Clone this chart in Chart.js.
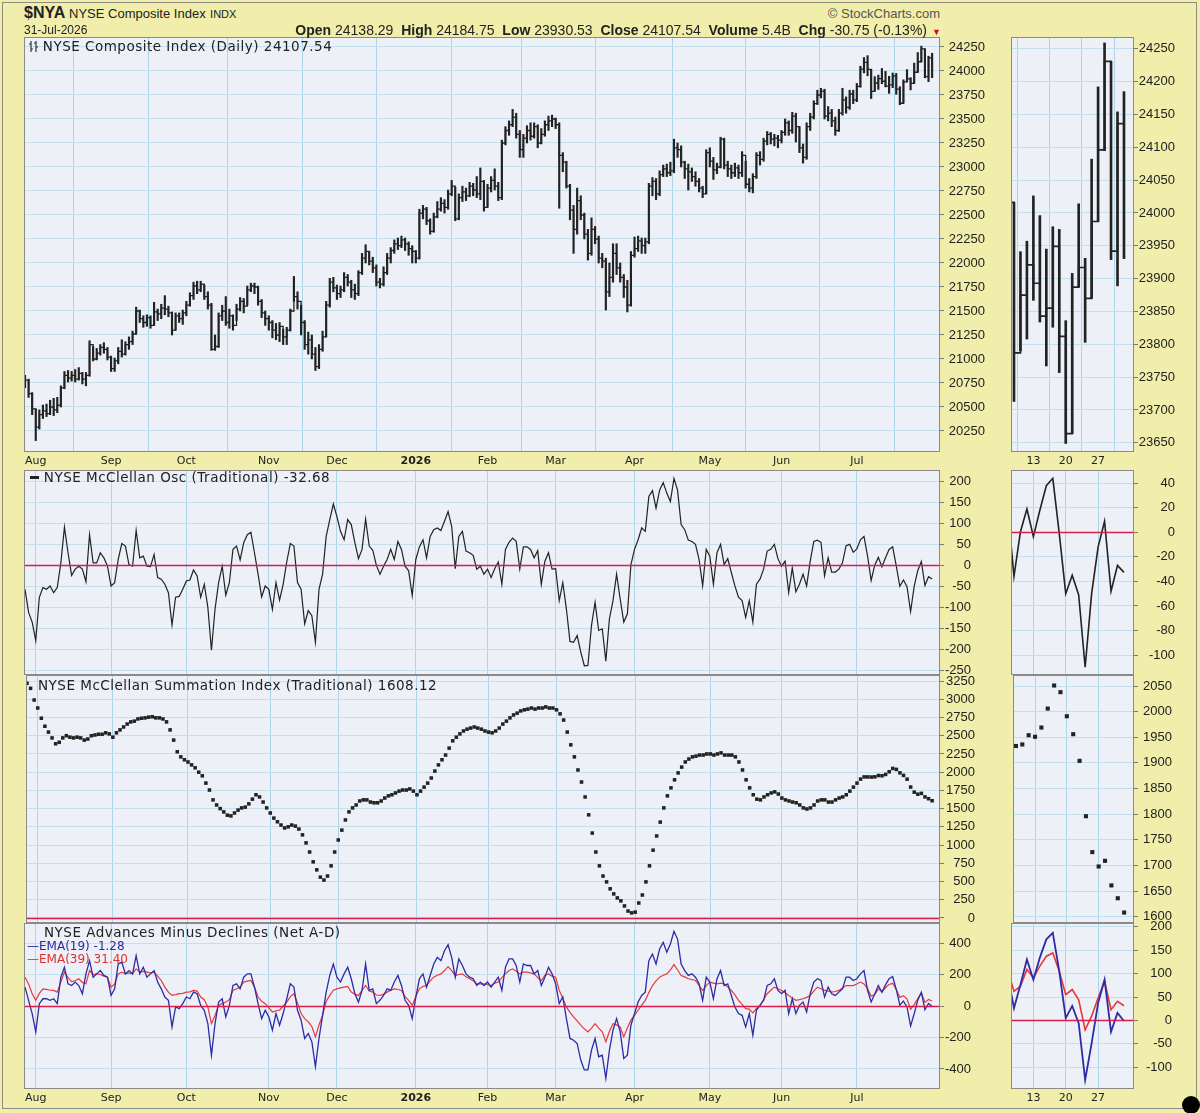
<!DOCTYPE html>
<html>
<head>
<meta charset="utf-8">
<title>$NYA NYSE Composite Index</title>
<script src="https://cdn.jsdelivr.net/npm/chart.js@4.4.1/dist/chart.umd.min.js"></script>
<style>
    html, body { margin: 0; padding: 0; }
    body { width: 1200px; height: 1113px; background: #f0eeaa; position: relative; overflow: hidden; font-family: 'Liberation Sans', Arial, sans-serif; color: #222; }
    .frame { position: absolute; left: 2px; top: 2px; width: 1195px; height: 1107px; border: 1px solid #8c8c84; box-sizing: border-box; }
    canvas { position: absolute; }
    .txt { position: absolute; white-space: nowrap; z-index: 3; line-height: 1; }
    .ptitle { font-family: 'DejaVu Sans', Verdana, sans-serif; font-size: 13.5px; letter-spacing: 0.5px; color: #222; }
    .legend { font-family: 'DejaVu Sans', Verdana, sans-serif; font-size: 12px; }
    .dot { position: absolute; left: 1182px; top: 1096px; width: 18px; height: 18px; border-radius: 50%; background: #000; z-index: 4; }
</style>
</head>
<body>
<div class="frame"></div>

<div class="txt" style="left:24px; top:5px; font-size:16px; font-weight:bold;">$NYA <span style="font-weight:normal; font-size:13px;">NYSE Composite Index</span> <span style="font-weight:normal; font-size:11px;">INDX</span></div>
<div class="txt" style="left:24px; top:24px; font-size:12px;">31-Jul-2026</div>
<div class="txt" style="right:273px; top:23px; font-size:14px;"><b>Open</b> 24138.29 &nbsp;<b>High</b> 24184.75 &nbsp;<b>Low</b> 23930.53 &nbsp;<b>Close</b> 24107.54 &nbsp;<b>Volume</b> 5.4B &nbsp;<b>Chg</b> -30.75 (-0.13%)</div>
<div class="txt" style="left:932px; top:28px; font-size:9px; color:#c0102a;">&#9660;</div>
<div class="txt" style="right:260px; top:7px; font-size:13px; color:#555;">&copy; StockCharts.com</div>

<div class="txt ptitle" style="left:29px; top:40px;"><svg width="9" height="11" style="vertical-align:-1px"><path d="M2 0v11M0 3h2M2 8h2M7 0v11M5 2h2M7 6h2" stroke="#333" stroke-width="1.2" fill="none"/></svg> NYSE Composite Index (Daily) 24107.54</div>
<div class="txt ptitle" style="left:30px; top:471px;"><span style="display:inline-block; width:9px; height:3px; background:#222; vertical-align:3px;"></span> NYSE McClellan Osc (Traditional) -32.68</div>
<div class="txt ptitle" style="left:38px; top:679px;">NYSE McClellan Summation Index (Traditional) 1608.12</div>
<div class="txt ptitle" style="left:44px; top:926px;">NYSE Advances Minus Declines (Net A-D)</div>
<div class="txt legend" style="left:27px; top:940px; color:#2a2aa0;">&#8212;EMA(19) -1.28</div>
<div class="txt legend" style="left:27px; top:953px; color:#e0302e;">&#8212;EMA(39) 31.40</div>
<div class="dot"></div>

<script>
// x is the session number: 0 = 29-Jul-2025 ... 253 = 31-Jul-2026
var monthTicks = [3, 24, 45, 68, 87, 109, 129, 148, 170, 191, 211, 232];
var monthLabels = ['Aug', 'Sep', 'Oct', 'Nov', 'Dec', '2026', 'Feb', 'Mar', 'Apr', 'May', 'Jun', 'Jul'];
var weekTicks = [239, 244, 249];
var weekLabels = ['13', '20', '27'];

var priceTicks = [20250, 20500, 20750, 21000, 21250, 21500, 21750, 22000, 22250, 22500, 22750, 23000, 23250, 23500, 23750, 24000, 24250];
var priceZoomTicks = [23650, 23700, 23750, 23800, 23850, 23900, 23950, 24000, 24050, 24100, 24150, 24200, 24250];
var oscTicks = [-250, -200, -150, -100, -50, 0, 50, 100, 150, 200];
var oscZoomTicks = [-100, -80, -60, -40, -20, 0, 20, 40];
var sumTicks = [0, 250, 500, 750, 1000, 1250, 1500, 1750, 2000, 2250, 2500, 2750, 3000, 3250];
var sumZoomTicks = [1600, 1650, 1700, 1750, 1800, 1850, 1900, 1950, 2000, 2050];
var adTicks = [-400, -200, 0, 200, 400];
var adZoomTicks = [-100, -50, 0, 50, 100, 150, 200];

var close = [
    20780, 20640, 20480, 20290, 20420, 20460, 20430, 20500, 20470, 20520,
    20700, 20830, 20800, 20830, 20790, 20850, 20790, 20830, 21150, 21000,
    21060, 21120, 21100, 21020, 20900, 20980, 21080, 21050, 21150, 21180,
    21260, 21500, 21420, 21380, 21430, 21350, 21490, 21470, 21530, 21520,
    21480, 21300, 21450, 21420, 21480, 21560, 21660, 21760, 21720, 21780,
    21650, 21560, 21100, 21130, 21450, 21500, 21380, 21450, 21350, 21520,
    21600, 21550, 21720, 21760, 21750, 21600, 21480, 21420, 21380, 21300,
    21250, 21340, 21230, 21300, 21500, 21650, 21600, 21380, 21150, 21200,
    21050, 20920, 21100, 21230, 21560, 21800, 21740, 21680, 21720, 21850,
    21800, 21720, 21680, 21900, 22050, 22120, 22020, 21950, 21800, 21780,
    21900, 22050, 22130, 22200, 22180, 22240, 22200, 22150, 22120, 22050,
    22520, 22560, 22440, 22330, 22480, 22560, 22620, 22580, 22720, 22800,
    22460, 22680, 22740, 22700, 22800, 22760, 22720, 22850, 22580, 22780,
    22860, 22800, 22680, 23250, 23380, 23440, 23520, 23340, 23180, 23300,
    23380, 23320, 23420, 23250, 23340, 23440, 23480, 23500, 23440, 23120,
    23050, 22800, 22550, 22350, 22650, 22500, 22300, 22100, 22350, 22250,
    22050, 22020, 21700, 21850, 22100, 21950, 21850, 21750, 21560, 22080,
    22150, 22230, 22180, 22220, 22800, 22850, 22720, 22920, 22980, 22940,
    22960, 23200, 23180, 23050, 22980, 22950, 22900, 22850, 22780, 22720,
    23150, 23060, 22970, 23000, 23290, 23020, 22980, 22940, 22990, 22940,
    23120, 22820, 22780, 22900, 23120, 23080, 23270, 23340, 23290, 23300,
    23280, 23360, 23460, 23380, 23530, 23420, 23200, 23100, 23420, 23520,
    23660, 23750, 23790, 23530, 23560, 23480, 23380, 23560, 23700, 23620,
    23760, 23700, 23840, 24020, 24090, 24016, 23787, 23875, 23921, 23893,
    23843, 23855, 23949, 23812, 23664, 23887, 23917, 23870, 23987, 24096,
    24231, 23942, 24136, 24107.54
];

var high = [
    20830, 20790, 20650, 20480, 20470, 20520, 20530, 20570, 20590, 20600,
    20720, 20870, 20880, 20870, 20890, 20910, 20860, 20860, 21190, 21130,
    21110, 21150, 21170, 21120, 21030, 21010, 21120, 21200, 21180, 21230,
    21290, 21540, 21510, 21450, 21460, 21450, 21590, 21520, 21570, 21660,
    21550, 21490, 21480, 21480, 21510, 21600, 21690, 21800, 21810, 21810,
    21770, 21700, 21580, 21250, 21480, 21560, 21650, 21520, 21460, 21570,
    21640, 21630, 21760, 21790, 21790, 21760, 21620, 21500, 21450, 21400,
    21370, 21380, 21310, 21330, 21520, 21860, 21700, 21560, 21400, 21280,
    21250, 21120, 21150, 21290, 21600, 21840, 21850, 21770, 21760, 21900,
    21880, 21820, 21780, 21920, 22100, 22190, 22120, 22060, 21980, 21840,
    21960, 22100, 22160, 22240, 22260, 22280, 22260, 22220, 22180, 22130,
    22560, 22600, 22580, 22460, 22520, 22640, 22680, 22660, 22760, 22860,
    22790, 22720, 22800, 22780, 22840, 22830, 22900, 22990, 22860, 22820,
    22900, 22980, 22840, 23280, 23420, 23480, 23600, 23560, 23380, 23340,
    23430, 23460, 23460, 23440, 23400, 23480, 23530, 23540, 23510, 23460,
    23150, 23060, 22820, 22600, 22780, 22700, 22520, 22350, 22470, 22380,
    22280, 22100, 22050, 22000, 22200, 22200, 22000, 21880, 21820, 22120,
    22270, 22280, 22260, 22260, 22830, 22890, 22880, 22960, 23020, 23030,
    23050, 23290, 23250, 23220, 23060, 23030, 22990, 22950, 22880, 22800,
    23180, 23200, 23100, 23040, 23310, 23300, 23060, 23020, 23040, 23020,
    23160, 23060, 22880, 22930, 23150, 23160, 23300, 23370, 23360, 23340,
    23330, 23380, 23500, 23480, 23570, 23560, 23420, 23240, 23460, 23560,
    23690, 23800, 23820, 23810, 23630, 23600, 23520, 23600, 23820, 23730,
    23800, 23800, 23870, 24050, 24140, 24160, 24016, 23941, 23957, 24026,
    23996, 23945, 23979, 23975, 23836, 23908, 24014, 23931, 24082, 24192,
    24259, 24231, 24154, 24184.75
];

var low = [
    20700, 20600, 20420, 20150, 20270, 20380, 20400, 20420, 20410, 20440,
    20500, 20690, 20760, 20770, 20760, 20780, 20740, 20720, 20820, 20980,
    20990, 21040, 21060, 20990, 20870, 20870, 20950, 21020, 21040, 21100,
    21150, 21260, 21380, 21330, 21340, 21320, 21350, 21400, 21420, 21460,
    21440, 21250, 21300, 21380, 21360, 21450, 21550, 21620, 21680, 21700,
    21620, 21520, 21090, 21090, 21120, 21400, 21350, 21320, 21300, 21400,
    21500, 21480, 21560, 21700, 21680, 21560, 21430, 21350, 21300, 21220,
    21200, 21180, 21150, 21150, 21290, 21600, 21520, 21250, 21100, 21050,
    21000, 20880, 20900, 21080, 21230, 21540, 21700, 21620, 21640, 21700,
    21760, 21640, 21620, 21660, 21880, 22000, 21980, 21900, 21760, 21740,
    21760, 21880, 22000, 22100, 22140, 22160, 22130, 22080, 22000, 22000,
    22040, 22460, 22400, 22300, 22320, 22470, 22540, 22520, 22560, 22700,
    22440, 22450, 22640, 22650, 22690, 22700, 22680, 22660, 22540, 22580,
    22740, 22760, 22650, 22660, 23230, 23330, 23420, 23300, 23100, 23100,
    23250, 23280, 23300, 23200, 23240, 23320, 23380, 23420, 23400, 22570,
    22950, 22780, 22450, 22100, 22300, 22450, 22250, 22030, 22080, 22200,
    22000, 21950, 21510, 21650, 21800, 21880, 21800, 21640, 21490, 21550,
    22060, 22120, 22100, 22100, 22200, 22700, 22660, 22700, 22900, 22900,
    22910, 22940, 23100, 23000, 22880, 22760, 22850, 22800, 22740, 22680,
    22720, 23000, 22870, 22930, 22990, 22980, 22900, 22880, 22900, 22880,
    22900, 22780, 22740, 22730, 22880, 23020, 23060, 23230, 23240, 23220,
    23200, 23250, 23330, 23330, 23350, 23260, 23150, 23040, 23080, 23380,
    23500, 23650, 23720, 23500, 23480, 23420, 23330, 23370, 23540, 23560,
    23600, 23660, 23680, 23830, 23980, 23950, 23713, 23790, 23808, 23867,
    23834, 23767, 23826, 23757, 23649, 23664, 23887, 23803, 23870, 23987,
    24095, 23929, 23889, 23930.53
];

var mcclellanOsc = [
    -57, -112, -135, -179, -76, -53, -57, -49, -65, -53,
    6, 91, 30, -24, -9, -2, -9, -39, 73, 6,
    6, 30, 18, -2, -49, -41, 14, 52, 46, 2,
    -2, 83, 18, 22, -2, -3, 26, -29, -33, -45,
    -65, -142, -76, -74, -57, -37, -35, -11, -25, -76,
    -45, -100, -202, -104, -41, -2, -71, -41, 38, 46,
    13, 54, 73, 79, 30, -21, -75, -49, -57, -105,
    -41, -83, -45, 8, 52, 46, -41, -57, -139, -108,
    -120, -183, -57, -21, 69, 109, 146, 116, 81, 61,
    109, 97, 54, 16, 38, 110, 46, 36, 0, -21,
    -2, 14, 38, 14, 57, 38, -2, -13, -72, 14,
    44, 61, 18, 69, 85, 89, 83, 105, 128, 93,
    -8, 69, 81, 34, 30, 24, -9, -2, -21, -9,
    -29, -8, 8, -45, 38, 55, 65, 57, -9, 44,
    44, 38, 18, 35, -45, 10, 30, -9, -8, -84,
    -41, -104, -181, -183, -167, -206, -239, -238, -143, -88,
    -155, -151, -228, -127, -84, -21, -80, -135, -116, 2,
    38, 61, 89, 81, 164, 178, 136, 179, 197, 172,
    152, 207, 179, 97, 85, 60, 57, 50, 14, -49,
    38, 22, -45, 30, 50, 2, 16, -17, -49, -76,
    -84, -124, -84, -135, -45, -33, -9, 34, 38, 50,
    16, -2, 10, -65, -6, -63, -45, -21, -49, 10,
    57, 60, 55, -25, 18, -16, -16, -9, 6, 47,
    50, 31, 39, 61, 69, 22, -36, 0.5, 19, -3.5,
    18, 38, 44, -1, -50, -35, -51, -110, -50, -12,
    9, -48, -27, -32.68
];

var summation = [
    3220, 3150, 2990, 2880, 2740, 2630, 2550, 2470, 2390, 2410,
    2470, 2500, 2480, 2470, 2480, 2470, 2440, 2455, 2500, 2510,
    2520, 2520, 2540, 2525, 2480, 2540, 2580, 2620, 2660, 2690,
    2700, 2730, 2740, 2745, 2755, 2760, 2745, 2745, 2730, 2690,
    2580, 2440, 2280, 2210, 2170, 2140, 2100, 2060, 2000, 1950,
    1850, 1755, 1620, 1550, 1500, 1455, 1410, 1400, 1440, 1480,
    1510, 1520, 1565, 1630, 1690, 1660, 1590, 1510, 1440, 1370,
    1320, 1275, 1235, 1250, 1275, 1260, 1220, 1140, 1030, 905,
    770, 660, 560, 520, 575, 715, 905, 1070, 1205, 1345,
    1455, 1510, 1550, 1605, 1620, 1620, 1590, 1580, 1580, 1605,
    1645, 1675, 1690, 1715, 1740, 1755, 1755, 1770, 1740, 1690,
    1740, 1795, 1850, 1920, 2015, 2100, 2170, 2235, 2330, 2430,
    2480, 2525, 2565, 2590, 2605, 2620, 2605, 2590, 2565, 2550,
    2540, 2565, 2605, 2660, 2700, 2745, 2785, 2810, 2840, 2855,
    2865, 2880, 2865, 2880, 2880, 2895, 2880, 2880, 2855, 2800,
    2715, 2550, 2375, 2210, 2030, 1865, 1660, 1415, 1165, 905,
    715, 575, 495, 400, 330, 275, 235, 165, 95, 70,
    80, 205, 315, 495, 715, 930, 1125, 1315, 1510, 1675,
    1785, 1895, 1990, 2070, 2140, 2180, 2210, 2220, 2235, 2235,
    2250, 2250, 2235, 2250, 2265, 2235, 2235, 2235, 2210, 2140,
    2030, 1895, 1785, 1690, 1630, 1620, 1660, 1690, 1715, 1730,
    1700, 1645, 1620, 1605, 1590, 1580, 1550, 1510, 1495, 1510,
    1550, 1605, 1620, 1620, 1590, 1590, 1620, 1645, 1660, 1690,
    1740, 1795, 1850, 1905, 1935, 1935, 1933, 1936, 1954, 1951,
    1969, 2006, 2051, 2038, 1991, 1956, 1904, 1796, 1726, 1698,
    1709, 1661, 1636, 1608.12
];

var netAdEma19 = [
    120, 36, -48, -164, 15, 46, 46, 36, 46, 15,
    183, 246, 141, 130, 152, 130, 78, 204, 288, 183,
    204, 225, 194, 183, 67, 109, 267, 278, 204, 225,
    204, 320, 204, 246, 183, 204, 225, 152, 109, 57,
    36, -133, -6, -17, 15, 57, 46, 88, 78, 4,
    -27, -112, -312, -112, 25, 46, -69, 4, 130, 141,
    109, 183, 204, 204, 120, 15, -80, -27, -69, -154,
    -48, -122, -48, 46, 141, 120, -27, -90, -206, -175,
    -227, -385, -206, -59, 88, 194, 267, 183, 152, 204,
    246, 173, 78, 25, 99, 267, 99, 109, 15, 36,
    67, 109, 99, 152, 194, 130, 36, 4, -80, 57,
    173, 204, 120, 194, 267, 309, 288, 351, 389, 309,
    183, 299, 257, 204, 183, 173, 130, 152, 130, 152,
    120, 152, 183, 99, 246, 299, 299, 257, 152, 267,
    257, 257, 204, 225, 130, 183, 246, 204, 141, 15,
    57, -80, -206, -217, -238, -343, -406, -406, -280, -206,
    -322, -312, -459, -280, -154, -80, -164, -333, -312, -122,
    -48, 25, 67, 88, 288, 330, 267, 362, 404, 341,
    394, 474, 425, 267, 225, 194, 204, 183, 141, 36,
    183, 152, 46, 173, 225, 130, 141, 67, -6, -48,
    -59, -133, -48, -185, -27, 4, 36, 130, 141, 173,
    99, 78, 99, -48, 46, -48, 4, 25, -38, 78,
    152, 173, 162, 57, 120, 78, 67, 88, 109, 183,
    183, 162, 173, 204, 225, 100, 26, 76, 130, 87,
    134, 173, 187, 105, 5, 31, -6, -127, -49, 37,
    87, -24, 16, -1.28
];

var netAdEma39 = [
    183, 140, 78, 36, 80, 109, 105, 100, 99, 88,
    152, 215, 180, 155, 160, 173, 150, 141, 225, 200,
    204, 200, 190, 183, 120, 140, 204, 215, 204, 210,
    205, 236, 215, 220, 215, 210, 215, 190, 162, 120,
    88, 67, 72, 78, 80, 88, 90, 99, 95, 57,
    40, -6, -112, -60, 4, 15, 25, 40, 99, 110,
    120, 152, 158, 162, 120, 57, 30, 15, -10, -38,
    -30, -27, 0, 25, 60, 78, 20, -48, -80, -101,
    -130, -196, -120, -59, 30, 67, 100, 109, 115, 120,
    125, 88, 75, 67, 100, 130, 95, 88, 70, 67,
    75, 88, 100, 109, 105, 99, 60, 36, 4, 60,
    109, 125, 130, 160, 183, 195, 204, 225, 250, 225,
    194, 200, 204, 185, 173, 160, 141, 141, 141, 135,
    130, 145, 152, 180, 204, 225, 236, 220, 204, 215,
    215, 210, 204, 180, 162, 195, 204, 190, 183, 99,
    50, -6, -40, -69, -95, -122, -145, -164, -140, -112,
    -140, -164, -227, -160, -112, -120, -133, -196, -140, -90,
    -60, -27, 5, 36, 85, 130, 160, 183, 195, 204,
    230, 263, 230, 194, 185, 173, 168, 162, 130, 99,
    130, 152, 145, 141, 145, 141, 120, 99, 70, 36,
    10, -17, -20, -44, -15, 4, 40, 78, 100, 120,
    110, 99, 85, 67, 50, 36, 40, 46, 55, 67,
    95, 120, 110, 99, 95, 88, 92, 99, 115, 130,
    130, 130, 140, 152, 140, 110, 62, 73, 109, 91,
    116, 137, 144, 105, 55, 66, 44, -20, 9, 48,
    84, 23, 41, 31.40
];

(function() {
    'use strict';

    var PLOT_BG = '#eef0f8';
    var HGRID = '#c4e0ec';
    var VGRID = '#add5e7';
    var FRAME = '#8a8a8a';
    var ZERO = '#d81e4a';
    var INK = '#222222';

    var MAIN = { left: 24, right: 940, xMin: -0.28, xMax: 255.2, xTicks: monthTicks, xLabels: monthLabels };
    var SIDE = { left: 1011, right: 1134, xMin: 235.54, xMax: 254.55, xTicks: weekTicks, xLabels: weekLabels };

    var panelFrame = {
        id: 'panelFrame',
        beforeDraw: function(chart) {
            var a = chart.chartArea;
            var ctx = chart.ctx;
            ctx.save();
            ctx.fillStyle = PLOT_BG;
            ctx.fillRect(a.left, a.top, a.right - a.left, a.bottom - a.top);
            ctx.restore();
        },
        afterDatasetsDraw: function(chart, args, opts) {
            if (opts.zero === null || opts.zero === undefined) {
                return;
            }
            var a = chart.chartArea;
            var ctx = chart.ctx;
            var y = Math.round(chart.scales.y.getPixelForValue(opts.zero)) + 0.5;
            ctx.save();
            ctx.strokeStyle = ZERO;
            ctx.lineWidth = 1.6;
            ctx.beginPath();
            ctx.moveTo(a.left, y);
            ctx.lineTo(a.right, y);
            ctx.stroke();
            ctx.restore();
        },
        afterDraw: function(chart) {
            var a = chart.chartArea;
            var ctx = chart.ctx;
            ctx.save();
            ctx.strokeStyle = FRAME;
            ctx.lineWidth = 1;
            ctx.strokeRect(Math.round(a.left) + 0.5, Math.round(a.top) + 0.5,
                Math.round(a.right - a.left) - 1, Math.round(a.bottom - a.top) - 1);
            ctx.restore();
        }
    };

    function points(values) {
        return values.map(function(v, i) {
            return { x: i, y: v };
        });
    }

    function ranges() {
        return high.map(function(h, i) {
            return { x: i, y: [low[i], h] };
        });
    }

    function priceSets(barW, lineW) {
        return [
            {
                type: 'bar',
                data: ranges(),
                backgroundColor: INK,
                borderWidth: 0,
                barThickness: barW,
                grouped: false
            },
            {
                type: 'line',
                data: points(close),
                borderColor: INK,
                borderWidth: lineW,
                stepped: true,
                pointRadius: 0,
                fill: false
            }
        ];
    }

    function oscSets(lineW) {
        return [{
            type: 'line',
            data: points(mcclellanOsc),
            borderColor: INK,
            borderWidth: lineW,
            pointRadius: 0,
            tension: 0,
            fill: false
        }];
    }

    function sumSets(radius) {
        return [{
            type: 'line',
            data: points(summation),
            showLine: false,
            pointStyle: 'rect',
            pointRadius: radius,
            pointBorderWidth: 0,
            pointBackgroundColor: INK
        }];
    }

    function adSets(blueW, redW) {
        return [
            {
                type: 'line',
                data: points(netAdEma19),
                borderColor: '#2c2ca4',
                borderWidth: blueW,
                pointRadius: 0,
                tension: 0,
                fill: false
            },
            {
                type: 'line',
                data: points(netAdEma39),
                borderColor: '#e8373a',
                borderWidth: redW,
                pointRadius: 0,
                tension: 0,
                fill: false
            }
        ];
    }

    function makePanel(side, p) {
        var padT = 10, padB = 10, padL = 2, padR = 14;
        var xAxisH = p.showDates ? 18 : 0;
        var axisW = p.axisW;
        var w = (side.right - side.left) + padL + axisW + padR;
        var h = (p.bottom - p.top) + padT + padB + xAxisH;

        var canvas = document.createElement('canvas');
        canvas.width = w;
        canvas.height = h;
        canvas.style.left = (side.left - padL) + 'px';
        canvas.style.top = (p.top - padT) + 'px';
        canvas.style.width = w + 'px';
        canvas.style.height = h + 'px';
        document.body.appendChild(canvas);

        return new Chart(canvas.getContext('2d'), {
            type: 'line',
            data: { datasets: p.datasets },
            plugins: [panelFrame],
            options: {
                responsive: false,
                animation: false,
                events: [],
                layout: { padding: { top: padT, bottom: padB, left: padL, right: padR } },
                plugins: {
                    legend: { display: false },
                    tooltip: { enabled: false },
                    panelFrame: { zero: p.zero }
                },
                scales: {
                    x: {
                        type: 'linear',
                        min: side.xMin,
                        max: side.xMax,
                        offset: false,
                        afterBuildTicks: function(s) {
                            s.ticks = side.xTicks.map(function(v) {
                                return { value: v };
                            });
                        },
                        afterFit: function(s) {
                            s.height = xAxisH;
                            s.paddingLeft = 0;
                            s.paddingRight = 0;
                        },
                        grid: { color: VGRID, drawTicks: false },
                        border: { display: false },
                        ticks: {
                            display: !!p.showDates,
                            autoSkip: false,
                            maxRotation: 0,
                            padding: 3,
                            color: INK,
                            callback: function(v, i) {
                                return side.xLabels[i];
                            },
                            font: function(ctx) {
                                var bold = ctx.tick && ctx.tick.label === '2026';
                                return { family: "'DejaVu Sans', Verdana, sans-serif", size: 11, weight: bold ? 'bold' : 'normal' };
                            }
                        }
                    },
                    y: {
                        type: 'linear',
                        position: 'right',
                        min: p.yMin,
                        max: p.yMax,
                        afterBuildTicks: function(s) {
                            s.ticks = p.yTicks.map(function(v) {
                                return { value: v };
                            });
                        },
                        afterFit: function(s) {
                            s.width = axisW;
                            s.paddingTop = 0;
                            s.paddingBottom = 0;
                        },
                        grid: { color: HGRID, tickLength: 4, tickColor: '#7a7a7a' },
                        border: { display: false },
                        ticks: {
                            autoSkip: false,
                            padding: 2,
                            crossAlign: 'far',
                            color: INK,
                            font: { family: "'Liberation Sans', Arial, sans-serif", size: 13 },
                            callback: function(v) {
                                return String(v);
                            }
                        }
                    }
                }
            }
        });
    }

    // price
    makePanel(MAIN, { top: 37, bottom: 452, axisW: 45, yMin: 20031, yMax: 24354, yTicks: priceTicks, showDates: true, datasets: priceSets(1.5, 1.3) });
    makePanel(SIDE, { top: 37, bottom: 452, axisW: 41, yMin: 23636, yMax: 24268, yTicks: priceZoomTicks, showDates: true, datasets: priceSets(2, 1.7) });

    // McClellan oscillator
    makePanel(MAIN, { top: 470, bottom: 675, axisW: 31, yMin: -261, yMax: 227, yTicks: oscTicks, zero: 0, datasets: oscSets(1.2) });
    makePanel(SIDE, { top: 470, bottom: 675, axisW: 41, yMin: -116.3, yMax: 50.8, yTicks: oscZoomTicks, zero: 0, datasets: oscSets(1.6) });

    // summation index
    makePanel(MAIN, { top: 675, bottom: 923, axisW: 35, yMin: -69, yMax: 3333, yTicks: sumTicks, zero: 0, datasets: sumSets(2.5) });
    makePanel(SIDE, { top: 675, bottom: 923, axisW: 38, yMin: 1587.7, yMax: 2071.5, yTicks: sumZoomTicks, datasets: sumSets(2.9) });

    // net advances minus declines
    makePanel(MAIN, { top: 923, bottom: 1089, axisW: 31, yMin: -527, yMax: 527, yTicks: adTicks, zero: 0, showDates: true, datasets: adSets(1.3, 1.2) });
    makePanel(SIDE, { top: 923, bottom: 1089, axisW: 38, yMin: -146.3, yMax: 207.9, yTicks: adZoomTicks, zero: 0, showDates: true, datasets: adSets(1.8, 1.6) });
})();
</script>
</body>
</html>
